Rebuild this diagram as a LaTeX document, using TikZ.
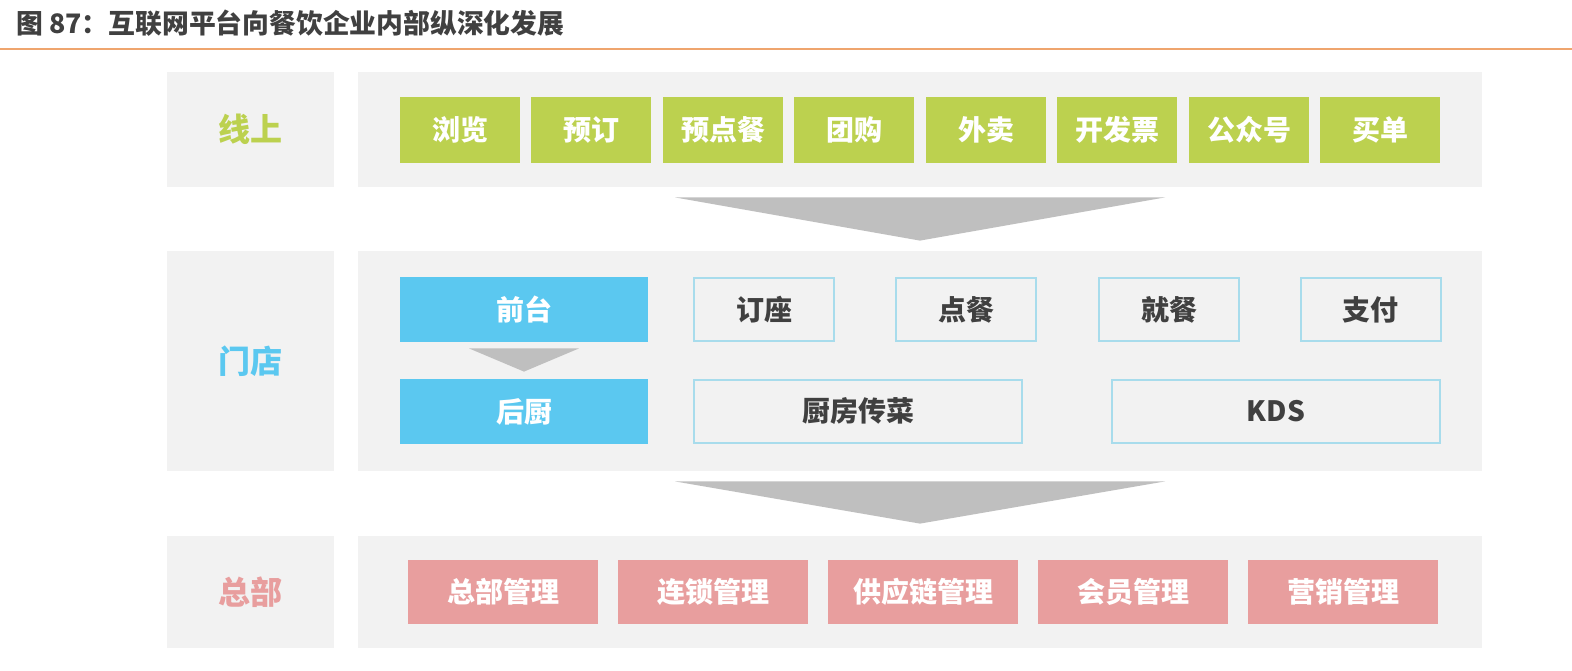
\documentclass[tikz,border=0pt]{standalone}
\usepackage{fontspec}
\newfontfamily\cjk{Noto Sans CJK SC}
\usepackage{xcolor}
\usetikzlibrary{positioning,calc}

\definecolor{panelgray}{HTML}{F2F2F2}
\definecolor{olgreen}{HTML}{BCD14F}
\definecolor{shopblue}{HTML}{5BC8F0}
\definecolor{edgeblue}{HTML}{A8DCEC}
\definecolor{hqpink}{HTML}{E89E9E}
\definecolor{arrowgray}{HTML}{BFBFBF}
\definecolor{textgray}{HTML}{404040}
\definecolor{ruleorange}{HTML}{EFA56E}

\begin{document}
\begin{tikzpicture}[
    x=0.5pt, y=-0.5pt,
    every node/.style={font=\cjk\bfseries\fontsize{14}{16}\selectfont, inner sep=0pt},
    lpanel/.style={rectangle, fill=panelgray, minimum width=83.5pt, minimum height=#1, font=\cjk\bfseries\fontsize{16}{18}\selectfont},
    rpanel/.style={rectangle, fill=panelgray, minimum width=562pt, minimum height=#1},
    onbtn/.style={rectangle, fill=olgreen, text=white, minimum width=60pt, minimum height=33pt},
    shopbtn/.style={rectangle, fill=shopblue, text=white, minimum width=124pt, minimum height=32.5pt},
    stepbox/.style={rectangle, draw=edgeblue, line width=1pt, fill=panelgray, text=textgray, minimum width=#1, minimum height=31.5pt},
    hqbtn/.style={rectangle, fill=hqpink, text=white, minimum width=95pt, minimum height=32pt},
    chevron/.style={fill=arrowgray}
]
    \useasboundingbox[fill=white] (0,0) rectangle (1572,670);

    % Title and rule
    \node[anchor=west, text=textgray, font=\cjk\bfseries\fontsize{13.4}{15}\selectfont] (title) at (16,23) {图 87：互联网平台向餐饮企业内部纵深化发展};
    \coordinate (rulel) at (0,49);
    \coordinate (ruler) at (1572,49);
    \draw[ruleorange, line width=0.9pt] (rulel) -- (ruler);

    % Panels
    \node[lpanel=57.5pt, text=olgreen] (online) at (250.5,129.5) {线上};
    \node[rpanel=57.5pt] (onpanel) at (920,129.5) {};
    \node[lpanel=110pt, text=shopblue] (shop) at (250.5,361) {门店};
    \node[rpanel=110pt] (shoppanel) at (920,361) {};
    \node[lpanel=56pt, text=hqpink] (hq) at (250.5,592) {总部};
    \node[rpanel=56pt] (hqpanel) at (920,592) {};

    % Online services
    \node[onbtn] (browse) at (460,130) {浏览};
    \node[onbtn] (reserve) at (591,130) {预订};
    \node[onbtn] (preorder) at (723,130) {预点餐};
    \node[onbtn] (groupbuy) at (854,130) {团购};
    \node[onbtn] (takeout) at (986,130) {外卖};
    \node[onbtn] (invoice) at (1117,130) {开发票};
    \node[onbtn] (wechat) at (1249,130) {公众号};
    \node[onbtn] (paybill) at (1380,130) {买单};

    % Store front / kitchen
    \node[shopbtn] (front) at (524,309.5) {前台};
    \node[shopbtn] (kitchen) at (524,411.5) {后厨};
    \node[stepbox=70pt] (seat) at (764,309.5) {订座};
    \node[stepbox=70pt] (order) at (966,309.5) {点餐};
    \node[stepbox=70pt] (dine) at (1169,309.5) {就餐};
    \node[stepbox=70pt] (pay) at (1370.5,309.5) {支付};
    \node[stepbox=164pt] (serve) at (858,411.5) {厨房传菜};
    \node[stepbox=164pt] (kds) at (1276,411.5) {KDS};

    % Headquarters
    \node[hqbtn] (hqmgmt) at (503,592) {总部管理};
    \node[hqbtn] (chain) at (713,592) {连锁管理};
    \node[hqbtn] (supply) at (923,592) {供应链管理};
    \node[hqbtn] (member) at (1133,592) {会员管理};
    \node[hqbtn] (market) at (1343,592) {营销管理};

    % Chevrons
    \fill[chevron] ($(onpanel.south)+(-245,10)$) -- ($(onpanel.south)+(245,10)$) -- ($(shoppanel.north)+(0,-10)$) -- cycle;
    \fill[chevron] ($(front.south)+(-55,6)$) -- ($(front.south)+(55,6)$) -- ($(kitchen.north)+(0,-7)$) -- cycle;
    \fill[chevron] ($(shoppanel.south)+(-245,10)$) -- ($(shoppanel.south)+(245,10)$) -- ($(hqpanel.north)+(0,-12)$) -- cycle;
\end{tikzpicture}
\end{document}
